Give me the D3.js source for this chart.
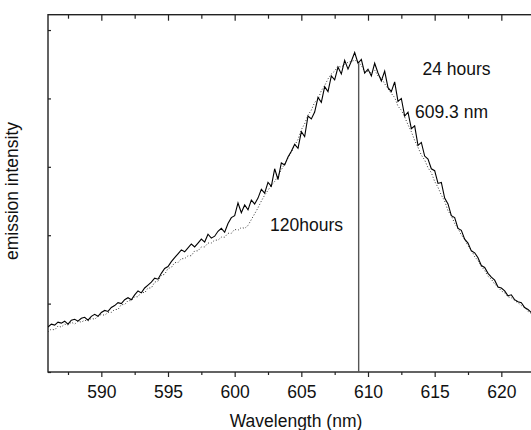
<!DOCTYPE html>
<html>
<head>
<meta charset="utf-8">
<script src="https://cdn.jsdelivr.net/npm/d3@7"></script>
<style>
  body { margin: 0; background: #fff; }
  svg { display: block; overflow: hidden; }
  text { font-family: "Liberation Sans", Arial, sans-serif; fill: #111; }
</style>
</head>
<body>
<div id="chart"></div>
<script>
// spectrum sampled every 0.25 nm starting at 586 nm
var wlStart = 586, wlStep = 0.25;

// emission intensity (a.u.), 24 hours - solid line
var h24 = [46,49,48,51,50,52,49,53,54,52,55,56,53,57,59,57,61,63,62,66,
  68,71,70,74,76,74,79,83,81,86,89,92,96,95,101,106,108,113,117,121,
  125,123,127,131,128,132,136,133,141,137,139,144,147,143,152,158,160,173,163,171,
  166,176,172,178,187,183,194,190,208,197,214,212,220,226,233,229,246,241,262,259,
  266,281,276,292,287,303,299,312,305,319,310,318,327,316,320,306,310,303,316,306,
  298,308,291,287,297,277,280,262,266,249,252,232,235,221,218,208,206,193,194,178,
  172,160,158,147,145,136,132,124,122,117,109,107,101,97,94,87,86,83,78,79,
  74,72,71,66,64,61];

// emission intensity (a.u.), 120 hours - dotted line
var h120 = [41,44,43,47,46,49,48,51,49,52,51,53,52,55,54,57,59,58,61,61,
  64,64,69,69,73,73,77,77,82,81,86,86,92,93,99,100,106,107,112,112,
  116,116,119,119,124,124,128,128,132,132,135,135,138,138,142,142,146,145,148,147,
  150,156,162,168,175,181,186,191,195,201,207,213,219,225,232,238,248,254,263,268,
  276,279,288,293,300,305,308,313,312,315,317,318,319,318,314,307,308,306,309,303,
  301,295,290,285,281,272,268,261,253,246,237,230,222,217,209,204,195,189,181,175,
  165,160,152,147,140,136,129,125,118,114,108,104,98,95,90,87,83,81,77,76,
  73,71,68,66,62,60];

var xMajor = [590, 595, 600, 605, 610, 615, 620];
var xMinor = [587.5, 592.5, 597.5, 602.5, 607.5, 612.5, 617.5, 622.5];
var yTicks = [0, 70, 140, 210, 280, 350];
var peakWl = 609.3;

var W = 531, H = 430;
var mLeft = 48, mTop = 14.7, mBottom = 372, mRight = 568;

var svg = d3.select("#chart").append("svg")
    .attr("width", W)
    .attr("height", H);

var x = d3.scaleLinear().domain([586, 625]).range([mLeft, mRight]);
var y = d3.scaleLinear().domain([0, 365.7]).range([mBottom, mTop]);

function toPts(arr) {
    return arr.map(function(v, i) { return {wl: wlStart + i * wlStep, v: v}; });
}

svg.append("clipPath").attr("id", "clip")
  .append("rect").attr("x", mLeft).attr("y", mTop)
    .attr("width", mRight - mLeft).attr("height", mBottom - mTop);

// axes
var xb = svg.append("g").attr("transform", "translate(0," + mBottom + ")");
xb.call(d3.axisBottom(x).tickValues(xMajor).tickSize(5).tickPadding(9).tickFormat(d3.format("d")));
xb.append("g").call(d3.axisBottom(x).tickValues(xMinor).tickSize(3).tickFormat(""));

var xt = svg.append("g").attr("transform", "translate(0," + mTop + ")");
xt.call(d3.axisTop(x).tickValues(xMajor).tickSize(-6).tickFormat(""));
xt.append("g").call(d3.axisTop(x).tickValues(xMinor).tickSize(-4).tickFormat(""));

var yl = svg.append("g").attr("transform", "translate(" + mLeft + ",0)");
yl.call(d3.axisLeft(y).tickValues(yTicks).tickSize(-3).tickFormat(""));

svg.selectAll(".domain").remove();
svg.selectAll(".tick line").attr("stroke", "#222").attr("stroke-width", 1.2);
svg.selectAll(".tick text")
    .style("font-size", "17.5px")
    .style("font-family", "'Liberation Sans', Arial, sans-serif")
    .attr("fill", "#111");

// frame
svg.append("rect")
    .attr("x", mLeft).attr("y", mTop)
    .attr("width", mRight - mLeft).attr("height", mBottom - mTop)
    .attr("fill", "none")
    .attr("stroke", "#222")
    .attr("stroke-width", 1.4);

var line = d3.line()
    .x(function(d) { return x(d.wl); })
    .y(function(d) { return y(d.v); });

var plot = svg.append("g").attr("clip-path", "url(#clip)");

plot.append("path")
    .datum(toPts(h120))
    .attr("fill", "none")
    .attr("stroke", "#333")
    .attr("stroke-width", 1)
    .attr("stroke-dasharray", "1,2")
    .attr("d", line);

plot.append("path")
    .datum(toPts(h24))
    .attr("fill", "none")
    .attr("stroke", "#000")
    .attr("stroke-width", 1.1)
    .attr("d", line);

// peak marker
var pk = Math.round((peakWl - wlStart) / wlStep);
plot.append("line")
    .attr("x1", x(peakWl)).attr("x2", x(peakWl))
    .attr("y1", y(h24[pk])).attr("y2", y(0))
    .attr("stroke", "#555")
    .attr("stroke-width", 1.4);

// labels
svg.append("text")
    .attr("x", 296).attr("y", 427)
    .attr("text-anchor", "middle")
    .style("font-size", "17.5px")
    .text("Wavelength (nm)");

svg.append("text")
    .attr("transform", "translate(18,191) rotate(-90)")
    .attr("text-anchor", "middle")
    .style("font-size", "17.5px")
    .text("emission intensity");

svg.append("text").attr("x", 422.5).attr("y", 75)
    .style("font-size", "17.5px").text("24 hours");
svg.append("text").attr("x", 415).attr("y", 118)
    .style("font-size", "17.5px").text("609.3 nm");
svg.append("text").attr("x", 270).attr("y", 230.5)
    .style("font-size", "17.5px").text("120hours");
</script>
</body>
</html>
